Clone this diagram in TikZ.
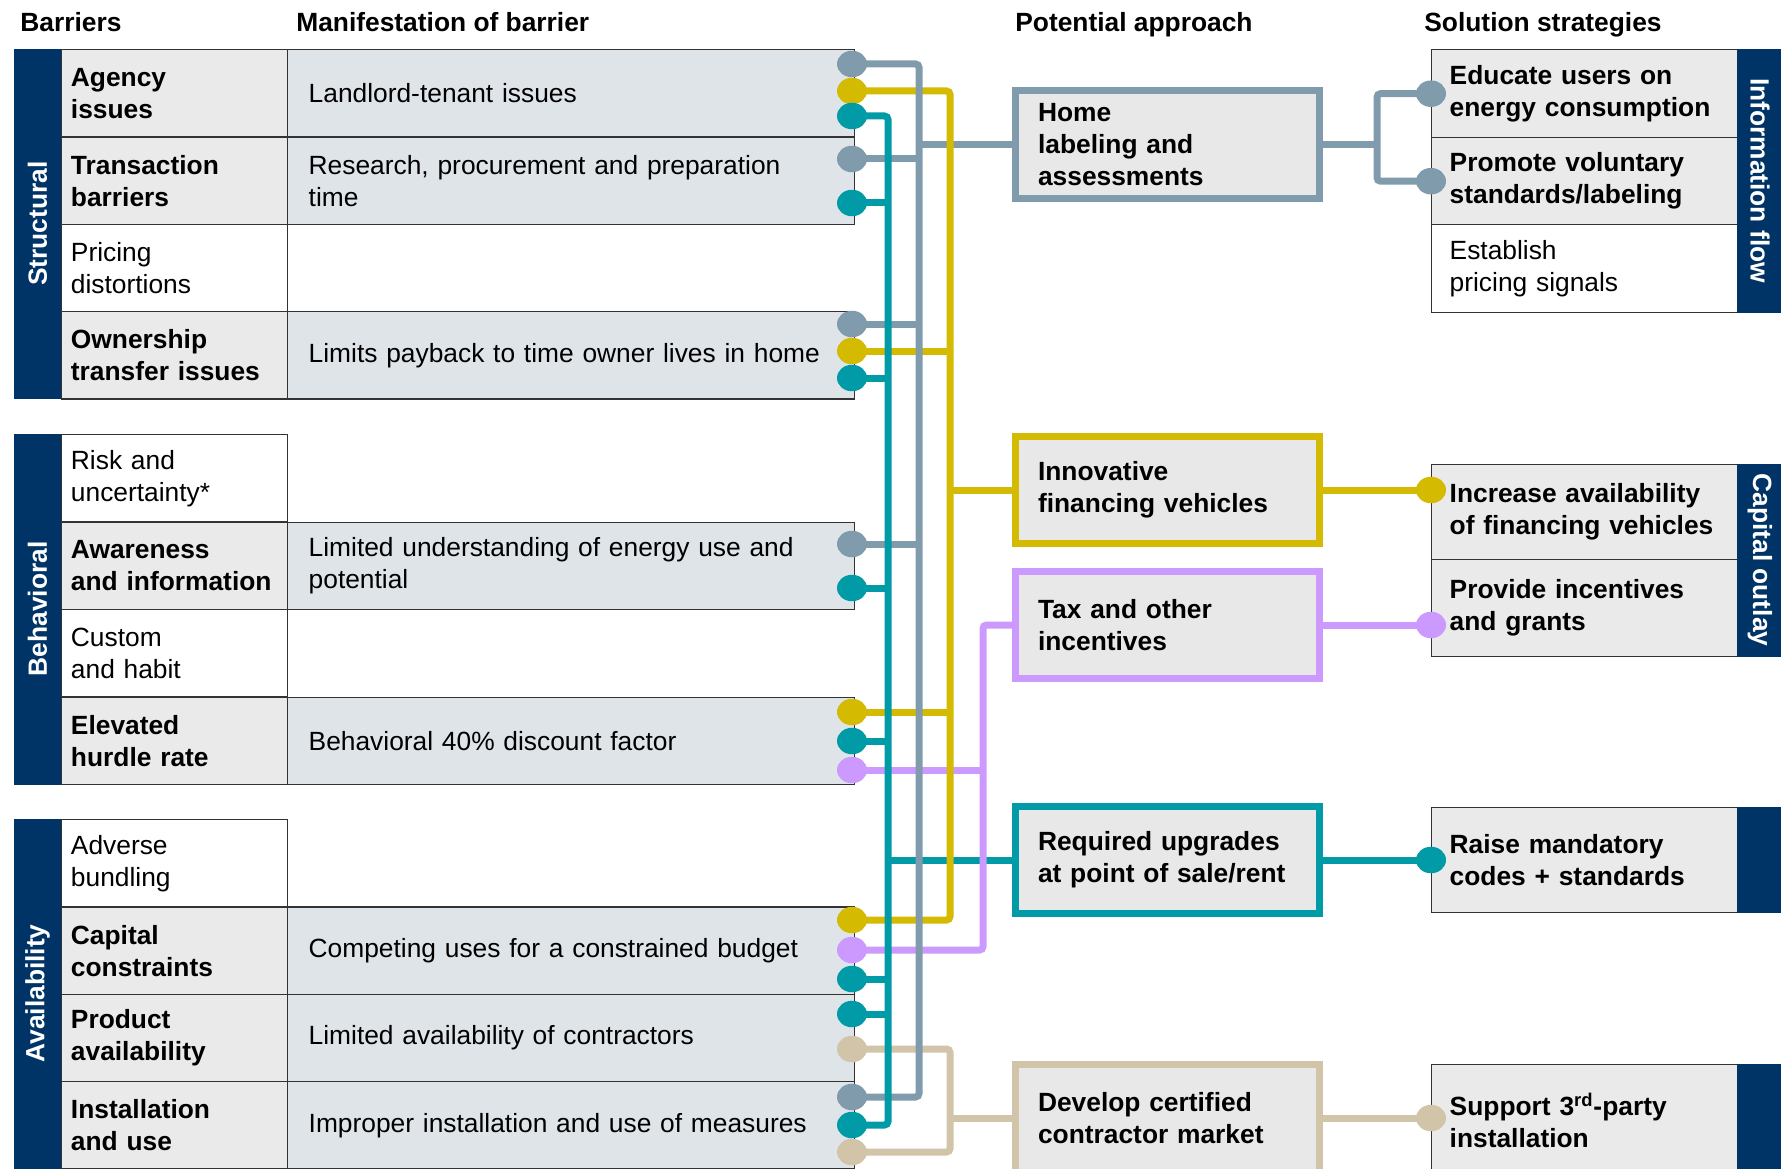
\documentclass[tikz,border=0pt]{standalone}
\usepackage{fontspec}
\setmainfont{Liberation Sans}
\usetikzlibrary{shapes.geometric,backgrounds}

\definecolor{navy}{RGB}{0,51,102}
\definecolor{cellgray}{RGB}{234,234,234}
\definecolor{mangray}{RGB}{223,228,233}
\definecolor{appgray}{RGB}{232,232,232}
\definecolor{linegray}{RGB}{127,155,172}
\definecolor{lineyellow}{RGB}{212,186,0}
\definecolor{lineteal}{RGB}{0,155,166}
\definecolor{linepurple}{RGB}{204,153,255}
\definecolor{linebeige}{RGB}{209,196,168}

\newcommand\basefont{\fontsize{15pt}{18.2pt}\selectfont}

\tikzset{
  header/.style={font=\basefont\bfseries, anchor=base west, inner sep=0pt},
  groupbar/.style={fill=navy, draw=navy, text=white, font=\basefont\bfseries, rotate=90, minimum height=0.94cm, inner sep=0pt},
  sidebar/.style={fill=navy, draw=navy, text=white, font=\basefont\bfseries, rotate=-90, minimum height=0.9cm, inner sep=0pt},
  tcell/.style={draw=black!80, line width=0.8pt, anchor=north west, align=left, minimum height=1.745cm, font=\basefont},
  barbold/.style={tcell, fill=cellgray, font=\basefont\bfseries, minimum width=4.52cm, text width=4.15cm, inner xsep=0.185cm},
  barplain/.style={tcell, fill=white, minimum width=4.52cm, text width=4.15cm, inner xsep=0.185cm},
  manif/.style={tcell, fill=mangray, minimum width=11.34cm, text width=10.5cm, inner xsep=0.42cm},
  strat/.style={tcell, fill=cellgray, font=\basefont\bfseries, minimum width=6.12cm, text width=5.4cm, inner xsep=0.36cm},
  approach/.style={draw=#1, line width=0.14cm, fill=appgray, font=\basefont\bfseries, minimum width=6.08cm, minimum height=2.16cm, text width=5.18cm, inner xsep=0.45cm, align=left},
  knob/.style={ellipse, fill=#1, minimum width=0.6cm, minimum height=0.53cm, inner sep=0pt},
  wire/.style={draw=#1, line width=0.14cm, rounded corners=2pt},
}

\begin{document}
\begin{tikzpicture}[x=0.02cm, y=-0.02cm]
  \useasboundingbox (0,0) rectangle (1781,1169);

  % Headers
  \node[header] (hbar) at (20,31.5) {Barriers};
  \node[header] (hman) at (296,31.5) {Manifestation of barrier};
  \node[header] (happ) at (1015,31.5) {Potential approach};
  \node[header] (hsol) at (1424,31.5) {Solution strategies};

  % Structural
  \node[groupbar, minimum width=6.98cm] (structural) at (37.5,223.5) {Structural};
  \node[barbold] (agency) at (61,49) {Agency\\issues};
  \node[manif] (landlord) at (287,49) {Landlord-tenant issues};
  \node[barbold] (transaction) at (61,136.3) {Transaction\\barriers};
  \node[manif] (research) at (287,136.3) {Research, procurement and preparation\\time};
  \node[barplain] (pricing) at (61,223.6) {Pricing\\distortions};
  \node[barbold] (ownership) at (61,310.9) {Ownership\\transfer issues};
  \node[manif] (payback) at (287,310.9) {Limits payback to time owner lives in home};

  % Behavioral
  \node[groupbar, minimum width=7cm] (behavioral) at (37.5,609) {Behavioral};
  \node[barplain] (risk) at (61,434) {Risk and\\uncertainty*};
  \node[barbold] (awareness) at (61,521.5) {Awareness\\and information};
  \node[manif] (understanding) at (287,521.5) {Limited understanding of energy use and\\potential};
  \node[barplain] (custom) at (61,609) {Custom\\and habit};
  \node[barbold] (elevated) at (61,696.5) {Elevated\\hurdle rate};
  \node[manif] (discount) at (287,696.5) {Behavioral 40\% discount factor};

  % Availability
  \node[groupbar, minimum width=6.98cm] (availability) at (37.5,993.5) {Availability};
  \node[barplain] (adverse) at (61,819) {Adverse\\bundling};
  \node[barbold] (capital) at (61,906.3) {Capital\\constraints};
  \node[manif] (budget) at (287,906.3) {Competing uses for a constrained budget};
  \node[barbold] (product) at (61,993.6) {Product\\availability};
  \node[manif] (contractors) at (287,993.6) {Limited availability of contractors};
  \node[barbold] (installation) at (61,1080.9) {Installation\\and use};
  \node[manif] (improper) at (287,1080.9) {Improper installation and use of measures};

  % Potential approaches
  \node[approach=linegray] (home) at (1167.5,144.5) {Home\\labeling and\\assessments};
  \node[approach=lineyellow] (innov) at (1167.5,490) {Innovative\\financing vehicles};
  \node[approach=linepurple] (tax) at (1167.5,625) {Tax and other\\incentives};
  \node[approach=lineteal] (req) at (1167.5,860) {Required upgrades\\at point of sale/rent};
  \node[approach=linebeige] (devel) at (1167.5,1118) {Develop certified\\contractor market};

  % Solution strategies
  \node[strat, minimum height=1.76cm] (educ) at (1431,49) {Educate users on\\energy consumption};
  \node[strat, minimum height=1.74cm] (prom) at (1431,137) {Promote voluntary\\standards/labeling};
  \node[strat, fill=white, font=\basefont, minimum height=1.76cm] (estab) at (1431,224) {Establish\\pricing signals};
  \node[sidebar, minimum width=5.26cm] (infoflow) at (1760,180.5) {Information flow};
  \node[strat, minimum height=1.9cm] (incr) at (1431,464) {Increase availability\\of financing vehicles};
  \node[strat, minimum height=1.94cm] (prov) at (1431,559) {Provide incentives\\and grants};
  \node[sidebar, minimum width=3.84cm] (outlay) at (1760,560) {Capital outlay};
  \node[strat, minimum height=2.1cm] (raise) at (1431,807) {Raise mandatory\\codes + standards};
  \node[sidebar, minimum width=2.1cm] (raisebar) at (1760,859.5) {};
  \node[strat, minimum height=2.22cm] (supp) at (1431,1064) {Support 3\textsuperscript{rd}-party\\installation};
  \node[sidebar, minimum width=2.22cm] (suppbar) at (1760,1119.5) {};

  % Trunk positions
  \coordinate (tealx) at (888,600);
  \coordinate (grayx) at (919,600);
  \coordinate (yelx) at (950,500);
  \coordinate (purx) at (983,800);
  \coordinate (beigex) at (950,1100);
  \coordinate (gsplit) at (1377,144.5);

  % Dots (left)
  \node[knob=linegray] (agencyG) at (852,64) {};
  \node[knob=lineyellow] (agencyY) at (852,91) {};
  \node[knob=lineteal] (agencyT) at (852,116) {};
  \node[knob=linegray] (transG) at (852,159) {};
  \node[knob=lineteal] (transT) at (852,203) {};
  \node[knob=linegray] (ownerG) at (852,324) {};
  \node[knob=lineyellow] (ownerY) at (852,351) {};
  \node[knob=lineteal] (ownerT) at (852,378) {};
  \node[knob=linegray] (awareG) at (852,544) {};
  \node[knob=lineteal] (awareT) at (852,588) {};
  \node[knob=lineyellow] (elevY) at (852,712) {};
  \node[knob=lineteal] (elevT) at (852,741) {};
  \node[knob=linepurple] (elevP) at (852,770) {};
  \node[knob=lineyellow] (capY) at (852,920) {};
  \node[knob=linepurple] (capP) at (852,950) {};
  \node[knob=lineteal] (capT) at (852,979) {};
  \node[knob=lineteal] (prodT) at (852,1014) {};
  \node[knob=linebeige] (prodB) at (852,1049) {};
  \node[knob=linegray] (instG) at (852,1097) {};
  \node[knob=lineteal] (instT) at (852,1125) {};
  \node[knob=linebeige] (instB) at (852,1152) {};

  % Dots (right)
  \node[knob=linegray] (educK) at (educ.west) {};
  \node[knob=linegray] (promK) at (prom.west) {};
  \node[knob=lineyellow] (incrK) at (innov.east -| incr.west) {};
  \node[knob=linepurple] (provK) at (tax.east -| prov.west) {};
  \node[knob=lineteal] (raiseK) at (req.east -| raise.west) {};
  \node[knob=linebeige] (suppK) at (devel.east -| supp.west) {};

  \begin{pgfonlayer}{background}
    % Branches
    \draw[wire=linegray] (transG.center) -- (transG.center -| grayx);
    \draw[wire=linegray] (ownerG.center) -- (ownerG.center -| grayx);
    \draw[wire=linegray] (awareG.center) -- (awareG.center -| grayx);
    \draw[wire=linegray] (home.west) -- (home.west -| grayx);
    \draw[wire=lineteal] (transT.center) -- (transT.center -| tealx);
    \draw[wire=lineteal] (ownerT.center) -- (ownerT.center -| tealx);
    \draw[wire=lineteal] (awareT.center) -- (awareT.center -| tealx);
    \draw[wire=lineteal] (elevT.center) -- (elevT.center -| tealx);
    \draw[wire=lineteal] (capT.center) -- (capT.center -| tealx);
    \draw[wire=lineteal] (prodT.center) -- (prodT.center -| tealx);
    \draw[wire=lineteal] (req.west) -- (req.west -| tealx);
    \draw[wire=lineyellow] (ownerY.center) -- (ownerY.center -| yelx);
    \draw[wire=lineyellow] (elevY.center) -- (elevY.center -| yelx);
    \draw[wire=lineyellow] (innov.west) -- (innov.west -| yelx);
    \draw[wire=linepurple] (elevP.center) -- (elevP.center -| purx);
    \draw[wire=linebeige] (devel.west) -- (devel.west -| beigex);

    % Trunks
    \draw[wire=linepurple] (capP.center) -| (purx) |- (tax.west);
    \draw[wire=lineyellow] (agencyY.center) -| (yelx) |- (capY.center);
    \draw[wire=linebeige] (prodB.center) -| (beigex) |- (instB.center);
    \draw[wire=linegray] (agencyG.center) -| (grayx) |- (instG.center);
    \draw[wire=lineteal] (agencyT.center) -| (tealx) |- (instT.center);

    % Approaches to strategies
    \draw[wire=linegray] (home.east) -- (gsplit);
    \draw[wire=linegray] (educK.center) -| (gsplit) |- (promK.center);
    \draw[wire=lineyellow] (innov.east) -- (incrK.center);
    \draw[wire=linepurple] (tax.east) -- (provK.center);
    \draw[wire=lineteal] (req.east) -- (raiseK.center);
    \draw[wire=linebeige] (devel.east) -- (suppK.center);
  \end{pgfonlayer}
\end{tikzpicture}
\end{document}
